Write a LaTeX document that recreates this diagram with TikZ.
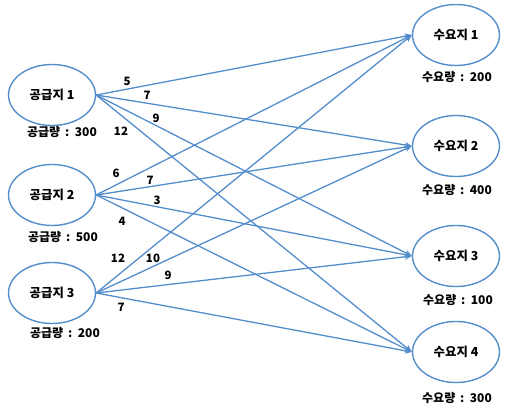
\documentclass[tikz,border=0pt]{standalone}
\usepackage{fontspec}
\setmainfont{Noto Sans CJK KR}
\usetikzlibrary{arrows.meta,shapes.geometric}
\definecolor{lineblue}{RGB}{84,141,204}
\begin{document}
\begin{tikzpicture}[x=1pt,y=-1pt,
  site/.style={ellipse, draw=lineblue, line width=1.4pt, minimum width=87pt, minimum height=61pt, inner sep=0pt, font=\fontsize{12.4}{14}\selectfont\bfseries},
  qty/.style={font=\fontsize{12}{14}\selectfont\bfseries, inner sep=0pt},
  cost/.style={font=\fontsize{11.5}{13}\selectfont\bfseries, inner sep=0pt},
  flow/.style={draw=lineblue, line width=1.3pt, -{Stealth[length=7pt,width=6pt]}}]
\useasboundingbox (0,0) rectangle (505,409);
% supply nodes
\node[site] (s1) at (52,95) {공급지 1};
\node[site] (s2) at (52,195) {공급지 2};
\node[site] (s3) at (52,293) {공급지 3};
% demand nodes
\node[site] (d1) at (456,35) {수요지 1};
\node[site] (d2) at (456,146) {수요지 2};
\node[site] (d3) at (456,256) {수요지 3};
\node[site] (d4) at (456,352) {수요지 4};
% quantities
\node[qty] (q1) at (62,132) {공급량 \,:\, 300};
\node[qty] (q2) at (63,237) {공급량 \,:\, 500};
\node[qty] (q3) at (65,333) {공급량 \,:\, 200};
\node[qty] (r1) at (457,77) {수요량 \,:\, 200};
\node[qty] (r2) at (457,190) {수요량 \,:\, 400};
\node[qty] (r3) at (458,300) {수요량 \,:\, 100};
\node[qty] (r4) at (457,398) {수요량 \,:\, 300};
% flows
\foreach \s in {s1,s2,s3}{
  \foreach \d in {d1,d2,d3,d4}{
    \draw[flow] (\s.east) -- (\d.west);
  }
}
% costs
\node[cost] (c11) at (127,81) {5};
\node[cost] (c12) at (147,95) {7};
\node[cost] (c13) at (156,118) {9};
\node[cost] (c14) at (121,131) {12};
\node[cost] (c21) at (116,173) {6};
\node[cost] (c22) at (150,180) {7};
\node[cost] (c23) at (157,200) {3};
\node[cost] (c24) at (122,221) {4};
\node[cost] (c31) at (118,258) {12};
\node[cost] (c32) at (153,258) {10};
\node[cost] (c33) at (168,275) {9};
\node[cost] (c34) at (121,307) {7};
\end{tikzpicture}
\end{document}
